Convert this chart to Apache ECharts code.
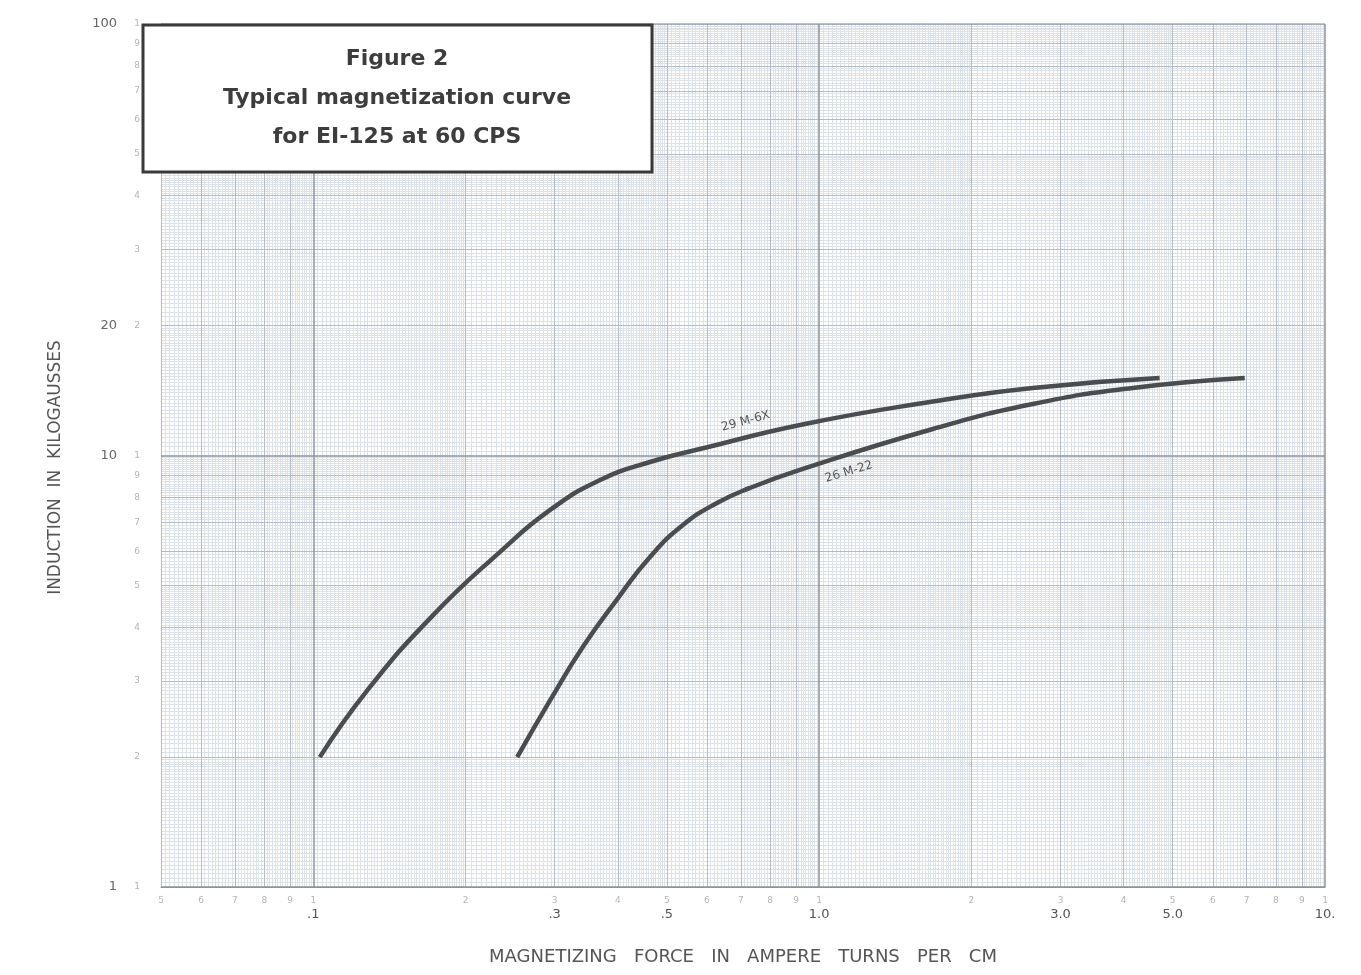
<!DOCTYPE html>
<html>
<head>
<meta charset="utf-8">
<title>Figure 2 - Typical magnetization curve</title>
<script src="https://cdn.jsdelivr.net/npm/echarts@6/dist/echarts.min.js"></script>
<style>
  html, body { margin: 0; padding: 0; background: #fff; }
  #chart { width: 1361px; height: 975px; }
</style>
</head>
<body>
<div id="chart"></div>
<script>
// values (log-log)
var force29 = [0.103, 0.128, 0.172, 0.234, 0.294, 0.369, 0.463, 0.581, 0.937, 1.655, 2.644, 4.71];
var induction29 = [2.0, 2.86, 4.25, 5.98, 7.48, 8.77, 9.66, 10.35, 11.83, 13.3, 14.34, 15.12];
var force26 = [0.253, 0.294, 0.341, 0.398, 0.463, 0.538, 0.628, 0.73, 0.916, 1.678, 2.644, 4.17, 6.94];
var induction26 = [2.0, 2.71, 3.6, 4.63, 5.82, 6.9, 7.76, 8.41, 9.26, 11.52, 13.16, 14.34, 15.12];

// printed scale of the graph paper and the typed labels
var paperXTicks = [0.05, 0.06, 0.07, 0.08, 0.09, 0.1, 0.2, 0.3, 0.4, 0.5, 0.6, 0.7, 0.8, 0.9, 1, 2, 3, 4, 5, 6, 7, 8, 9, 10];
var typedXTicks = [0.1, 0.3, 0.5, 1, 3, 5, 10];
var typedXLabels = ['.1', '.3', '.5', '1.0', '3.0', '5.0', '10.'];
var paperYTicks = [1, 2, 3, 4, 5, 6, 7, 8, 9, 10, 20, 30, 40, 50, 60, 70, 80, 90, 100];
var typedYTicks = [1, 10, 20, 100];
var typedYLabels = ['1', '10', '20', '100'];

var xMin = 0.05, xMax = 10, yMin = 1, yMax = 100;
var font = "'DejaVu Sans', sans-serif";

function leadDigit(v) {
  var p = Math.pow(10, Math.floor(Math.log10(v) + 1e-9));
  return String(Math.round(v / p));
}
function pick(ticks, labels) {
  return function (v) {
    var best = 0;
    for (var i = 1; i < ticks.length; i++) {
      if (Math.abs(Math.log(ticks[i] / v)) < Math.abs(Math.log(ticks[best] / v))) best = i;
    }
    return labels[best];
  };
}

// graph paper rulings
function ruling(lo, hi, ranges) {
  var out = {fine: [], mid: [], major: []};
  for (var d = Math.floor(Math.log10(lo) + 1e-9); d < Math.ceil(Math.log10(hi) - 1e-9); d++) {
    var p = Math.pow(10, d);
    ranges.forEach(function (r) {
      for (var m = r[0]; m < r[1] - 1e-9; m += r[2]) {
        var mm = +m.toFixed(4);
        var v = +(mm * p).toPrecision(6);
        if (v < lo * 0.9999 || v > hi * 1.0001) continue;
        if (Math.abs(mm - 1) < 1e-6) out.major.push(v);
        else if (Math.abs(mm - Math.round(mm)) < 1e-6) out.mid.push(v);
        else out.fine.push(v);
      }
    });
  }
  out.major.push(hi);
  return out;
}
var xr = ruling(xMin, xMax, [[1, 2, 0.02], [2, 5, 0.05], [5, 10, 0.1]]);
var yr = ruling(yMin, yMax, [[1, 2, 0.025], [2, 5, 0.05], [5, 10, 0.1]]);

function vLines(vals) { return vals.map(function (v) { return {coords: [[v, yMin], [v, yMax]]}; }); }
function hLines(vals) { return vals.map(function (v) { return {coords: [[xMin, v], [xMax, v]]}; }); }
function rulingSeries(data, color, width, z) {
  return {
    type: 'lines', coordinateSystem: 'cartesian2d', silent: true, polyline: false, z: z,
    lineStyle: {color: color, width: width, opacity: 1},
    data: data
  };
}

function pairs(xs, ys) { return xs.map(function (x, i) { return [x, ys[i]]; }); }

var chart = echarts.init(document.getElementById('chart'));
chart.setOption({
  backgroundColor: '#ffffff',
  animation: false,
  grid: {left: 161, right: 36, top: 24, bottom: 88},
  xAxis: [
    {
      type: 'log', logBase: 10, min: xMin, max: xMax, position: 'bottom',
      axisLine: {show: true, lineStyle: {color: '#8a929c', width: 1}},
      axisTick: {show: false},
      splitLine: {show: false},
      axisLabel: {customValues: paperXTicks, formatter: leadDigit, color: '#b4b4b4', fontSize: 9, margin: 9, fontFamily: font}
    },
    {
      type: 'log', logBase: 10, min: xMin, max: xMax, position: 'bottom',
      axisLine: {show: false}, axisTick: {show: false}, splitLine: {show: false},
      axisLabel: {customValues: typedXTicks, formatter: pick(typedXTicks, typedXLabels), color: '#555', fontSize: 13, margin: 21, fontFamily: font},
      name: 'MAGNETIZING   FORCE   IN   AMPERE   TURNS   PER   CM',
      nameLocation: 'middle', nameGap: 61,
      nameTextStyle: {color: '#555', fontSize: 18, fontFamily: font}
    }
  ],
  yAxis: [
    {
      type: 'log', logBase: 10, min: yMin, max: yMax, position: 'left',
      axisLine: {show: true, lineStyle: {color: '#8a929c', width: 1}},
      axisTick: {show: false},
      splitLine: {show: false},
      axisLabel: {customValues: paperYTicks, formatter: leadDigit, color: '#b4b4b4', fontSize: 9, margin: 21, fontFamily: font}
    },
    {
      type: 'log', logBase: 10, min: yMin, max: yMax, position: 'left',
      axisLine: {show: false}, axisTick: {show: false}, splitLine: {show: false},
      axisLabel: {customValues: typedYTicks, formatter: pick(typedYTicks, typedYLabels), color: '#666', fontSize: 13, margin: 44, fontFamily: font},
      name: 'INDUCTION  IN  KILOGAUSSES',
      nameLocation: 'middle', nameGap: 97,
      nameTextStyle: {color: '#555', fontSize: 17, fontFamily: font, padding: [0, 24, 0, 0]}
    }
  ],
  graphic: [
    {
      type: 'rect', z: 100,
      shape: {x: 143, y: 25, width: 509, height: 147},
      style: {fill: '#ffffff', stroke: '#3a3a3a', lineWidth: 3}
    },
    {
      type: 'text', z: 101, x: 397, y: 98,
      style: {
        text: 'Figure 2\nTypical magnetization curve\nfor EI-125 at 60 CPS',
        font: "bold 22px 'DejaVu Sans', sans-serif",
        lineHeight: 39, fill: '#3d3d3d', align: 'center', verticalAlign: 'middle'
      }
    }
  ],
  series: [
    rulingSeries(vLines(xr.fine).concat(hLines(yr.fine)), '#dde2e9', 1, 1),
    rulingSeries(vLines(xr.mid).concat(hLines(yr.mid)), '#b3bcc8', 1, 2),
    rulingSeries(vLines(xr.major).concat(hLines(yr.major)), '#8a94a0', 1.5, 3),
    {
      name: '29 M-6X', type: 'line', z: 10,
      data: pairs(force29, induction29),
      smooth: 0.5, symbol: 'none',
      lineStyle: {color: '#4a4c50', width: 4.5, cap: 'butt'},
      markPoint: {
        symbol: 'circle', symbolSize: 1, itemStyle: {color: 'rgba(0,0,0,0)'},
        label: {show: true, position: 'inside', formatter: '29 M-6X', rotate: 15, color: '#555', fontSize: 12, fontFamily: font},
        data: [{coord: [0.716, 12.0]}]
      }
    },
    {
      name: '26 M-22', type: 'line', z: 10,
      data: pairs(force26, induction26),
      smooth: 0.5, symbol: 'none',
      lineStyle: {color: '#4a4c50', width: 4.5, cap: 'butt'},
      markPoint: {
        symbol: 'circle', symbolSize: 1, itemStyle: {color: 'rgba(0,0,0,0)'},
        label: {show: true, position: 'inside', formatter: '26 M-22', rotate: 17, color: '#555', fontSize: 12, fontFamily: font},
        data: [{coord: [1.145, 9.16]}]
      }
    }
  ]
});
</script>
</body>
</html>
